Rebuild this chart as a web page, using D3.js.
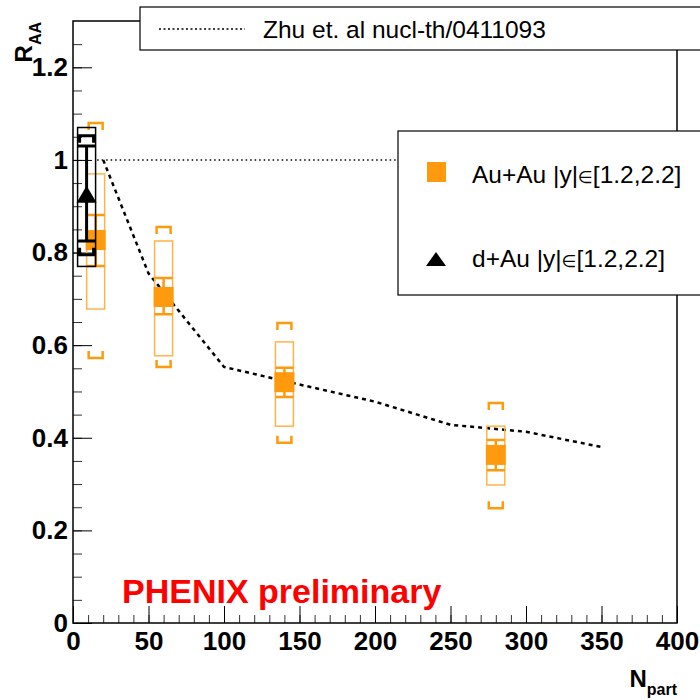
<!DOCTYPE html>
<html>
<head>
  <meta charset="utf-8">
  <script src="https://d3js.org/d3.v7.min.js"></script>
  <style>
    body { margin: 0; background: #fff; }
    text { font-family: "Liberation Sans", Arial, Helvetica, sans-serif; }
  </style>
</head>
<body>
<script>
  // Au+Au, |y| in [1.2,2.2]
  var auNpart = [15, 60, 140, 280];
  var auRaa = [0.827, 0.704, 0.520, 0.363];
  var auStat = [[0.771, 0.881], [0.667, 0.745], [0.488, 0.551], [0.330, 0.395]];
  var auSys = [[0.678, 0.970], [0.577, 0.825], [0.425, 0.607], [0.298, 0.425]];
  var auGlob = [[0.572, 1.080], [0.553, 0.855], [0.389, 0.648], [0.248, 0.475]];

  // d+Au, |y| in [1.2,2.2]
  var dauNpart = [9];
  var dauRaa = [0.925];
  var dauStat = [[0.825, 1.030]];
  var dauSys = [[0.770, 1.070]];
  var dauGlob = [[0.795, 1.052]];

  // Zhu et al. curve
  var theoryNpart = [20, 50, 100, 150, 200, 250, 300, 350];
  var theoryRaa = [1.0, 0.755, 0.553, 0.515, 0.478, 0.428, 0.413, 0.380];

  var xTicks = [0, 50, 100, 150, 200, 250, 300, 350, 400];
  var yTicks = [0, 0.2, 0.4, 0.6, 0.8, 1.0, 1.2];

  var theoryLabel = "Zhu et. al nucl-th/0411093";
  var seriesNames = ["Au+Au", "d+Au"];
  var rapidityLabel = ["|y|", "\u2208", "[1.2,2.2]"];

  var orange = "#ff9a0f", orangeLight = "#ffb44a";
  var frameL = 73, frameR = 677, frameT = 21, frameB = 623;

  var svg = d3.select("body").append("svg")
      .attr("width", 700).attr("height", 700);
  svg.append("rect").attr("width", 700).attr("height", 700).attr("fill", "#fff");

  var x = d3.scaleLinear().domain([0, 400]).range([frameL, frameR]);
  var y = d3.scaleLinear().domain([0, 1.3]).range([frameB, frameT]);

  // minor ticks
  svg.append("g").attr("transform", "translate(0," + frameB + ")")
    .call(d3.axisBottom(x).tickValues(d3.range(0, 401, 10)).tickSize(-8).tickSizeOuter(0).tickFormat(""))
    .call(function (g) { g.select(".domain").remove(); g.selectAll("line").attr("stroke", "#333"); });
  svg.append("g").attr("transform", "translate(" + frameL + ",0)")
    .call(d3.axisLeft(y).tickValues(d3.range(0, 1.3, 0.05)).tickSize(-9).tickSizeOuter(0).tickFormat(""))
    .call(function (g) { g.select(".domain").remove(); g.selectAll("line").attr("stroke", "#333"); });

  // major ticks + labels
  var xAxis = svg.append("g").attr("transform", "translate(0," + frameB + ")")
    .call(d3.axisBottom(x).tickValues(xTicks).tickSize(-17).tickSizeOuter(0).tickPadding(9).tickFormat(d3.format("d")));
  xAxis.select(".domain").remove();
  xAxis.selectAll("text").attr("font-size", 26).attr("font-weight", "bold").attr("fill", "#000")
    .attr("font-family", "'Liberation Sans', Arial, sans-serif");
  xAxis.selectAll("line").attr("stroke", "#000");

  var yAxis = svg.append("g").attr("transform", "translate(" + frameL + ",0)")
    .call(d3.axisLeft(y).tickValues(yTicks).tickSize(-19).tickSizeOuter(0).tickPadding(5).tickFormat(d3.format("~g")));
  yAxis.select(".domain").remove();
  yAxis.selectAll("text").attr("font-size", 26).attr("font-weight", "bold").attr("fill", "#000")
    .attr("font-family", "'Liberation Sans', Arial, sans-serif");
  yAxis.selectAll("line").attr("stroke", "#000");

  // frame
  svg.append("rect").attr("x", frameL).attr("y", frameT)
    .attr("width", frameR - frameL).attr("height", frameB - frameT)
    .attr("fill", "none").attr("stroke", "#000").attr("stroke-width", 1.5);

  // R_AA = 1 reference line
  svg.append("line")
    .attr("x1", x(16)).attr("x2", x(400)).attr("y1", y(1)).attr("y2", y(1))
    .attr("stroke", "#000").attr("stroke-width", 1.5).attr("stroke-dasharray", "1.5,3");

  // theory curve
  var line = d3.line().x(function (d) { return x(d[0]); }).y(function (d) { return y(d[1]); });
  svg.append("path")
    .datum(d3.zip(theoryNpart, theoryRaa))
    .attr("d", line)
    .attr("fill", "none").attr("stroke", "#000").attr("stroke-width", 2.5)
    .attr("stroke-dasharray", "4,4");

  function drawPoint(g, n, r, stat, sys, glob, col, boxCol, marker) {
    var cx = x(n), hw = 9;
    // systematic box
    g.append("rect").attr("x", cx - hw).attr("y", y(sys[1]))
      .attr("width", 2 * hw).attr("height", y(sys[0]) - y(sys[1]))
      .attr("fill", "none").attr("stroke", boxCol).attr("stroke-width", 1.5);
    // brackets
    var bw = 7, lw = marker === "tri" ? 3 : 2.5;
    g.append("path")
      .attr("d", "M" + (cx - bw) + "," + (y(glob[1]) + 7) + "V" + y(glob[1]) + "H" + (cx + bw) + "V" + (y(glob[1]) + 7) +
                 "M" + (cx - bw) + "," + (y(glob[0]) - 7) + "V" + y(glob[0]) + "H" + (cx + bw) + "V" + (y(glob[0]) - 7))
      .attr("fill", "none").attr("stroke", col).attr("stroke-width", lw);
    // statistical error
    g.append("path")
      .attr("d", "M" + cx + "," + y(stat[0]) + "V" + y(stat[1]) +
                 "M" + (cx - hw) + "," + y(stat[1]) + "H" + (cx + hw) +
                 "M" + (cx - hw) + "," + y(stat[0]) + "H" + (cx + hw))
      .attr("fill", "none").attr("stroke", col).attr("stroke-width", marker === "tri" ? 3 : 2.5);
    // marker
    var cy = y(r);
    if (marker === "tri") {
      g.append("path")
        .attr("d", "M" + (cx - 10) + "," + (cy + 8) + "L" + cx + "," + (cy - 9) + "L" + (cx + 10) + "," + (cy + 8) + "Z")
        .attr("fill", col);
    } else {
      g.append("rect").attr("x", cx - 10).attr("y", cy - 10).attr("width", 20).attr("height", 20).attr("fill", col);
    }
  }

  var pts = svg.append("g");
  auNpart.forEach(function (n, i) {
    drawPoint(pts, n, auRaa[i], auStat[i], auSys[i], auGlob[i], orange, orangeLight, "sq");
  });
  dauNpart.forEach(function (n, i) {
    drawPoint(pts, n, dauRaa[i], dauStat[i], dauSys[i], dauGlob[i], "#000", "#000", "tri");
  });

  // legend 1
  svg.append("rect").attr("x", 140).attr("y", 7).attr("width", 600).attr("height", 43)
    .attr("fill", "#fff").attr("stroke", "#000").attr("stroke-width", 1.2);
  svg.append("line").attr("x1", 159).attr("x2", 245).attr("y1", 29).attr("y2", 29)
    .attr("stroke", "#000").attr("stroke-width", 1.5).attr("stroke-dasharray", "2,2.5");
  svg.append("text").attr("x", 263).attr("y", 38).attr("font-size", 24.5).text(theoryLabel);

  // legend 2
  svg.append("rect").attr("x", 398).attr("y", 131).attr("width", 340).attr("height", 164)
    .attr("fill", "#fff").attr("stroke", "#000").attr("stroke-width", 1.2);
  svg.append("rect").attr("x", 427).attr("y", 162).attr("width", 19).attr("height", 20).attr("fill", orange);
  svg.append("path").attr("d", "M426,266L436,252L446,266Z").attr("fill", "#000");

  [183, 267].forEach(function (yy, i) {
    var t = svg.append("text").attr("x", 472).attr("y", yy).attr("font-size", 24.5);
    t.append("tspan").text(seriesNames[i] + " " + rapidityLabel[0]);
    t.append("tspan").attr("font-size", 17).attr("font-family", "'DejaVu Sans', sans-serif").text(rapidityLabel[1]);
    t.append("tspan").text(rapidityLabel[2]);
  });

  // PHENIX preliminary
  svg.append("text").attr("x", 122).attr("y", 603)
    .attr("font-size", 34).attr("font-weight", "bold").attr("fill", "#ff0000")
    .text("PHENIX preliminary");

  // axis titles
  var yt = svg.append("text").attr("transform", "translate(32,22) rotate(-90)")
    .attr("text-anchor", "end").attr("font-weight", "bold").attr("font-size", 24);
  yt.append("tspan").text("R");
  yt.append("tspan").attr("font-size", 16).attr("dy", 9).text("AA");

  var xt = svg.append("text").attr("x", 677).attr("y", 687)
    .attr("text-anchor", "end").attr("font-weight", "bold").attr("font-size", 24);
  xt.append("tspan").text("N");
  xt.append("tspan").attr("font-size", 16).attr("dy", 8).text("part");
</script>
</body>
</html>
